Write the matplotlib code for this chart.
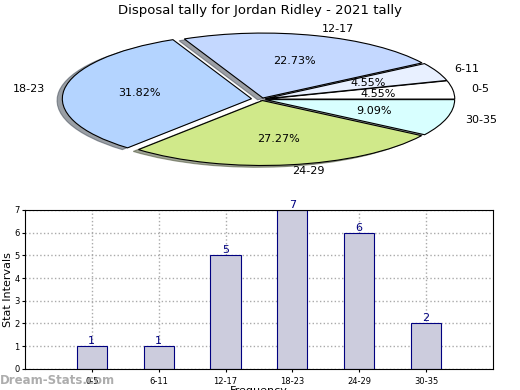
import matplotlib
matplotlib.use('Agg')
import matplotlib.pyplot as plt
import numpy as np

# datos
labels = ['0-5', '6-11', '12-17', '18-23', '24-29', '30-35']
counts = [1, 1, 5, 7, 6, 2]
pie_colors = ['#ffffff', '#e8f0ff', '#c4d8ff', '#b4d4ff', '#d0e98a', '#d8ffff']
explode = [0.02, 0.02, 0.02, 0.055, 0.02, 0.02]

fig = plt.figure(figsize=(5.2, 3.9), dpi=100)

# pastel
ax1 = fig.add_axes([0.096, 0.559, 0.815, 0.373])
ax1.pie(counts, labels=labels, colors=pie_colors, explode=explode,
        autopct='%1.2f%%', pctdistance=0.6, labeldistance=1.1,
        startangle=0, shadow=True, counterclock=True,
        wedgeprops={'edgecolor': 'black', 'linewidth': 0.8},
        textprops={'fontsize': 8})
ax1.set_aspect('auto')
ax1.set_xlim(-1.12, 1.12)
ax1.set_ylim(-1.12, 1.12)
fig.text(0.5, 0.972, 'Disposal tally for Jordan Ridley - 2021 tally',
         ha='center', va='center', fontsize=9.5)

# barras
ax2 = fig.add_axes([0.048, 0.054, 0.9, 0.408])
x = np.arange(1, len(labels) + 1)
ax2.bar(x, counts, width=0.45, color='#ccccdd', edgecolor='navy', linewidth=0.8, zorder=2)
for xi, c in zip(x, counts):
    ax2.text(xi, c, str(c), ha='center', va='bottom', color='navy', fontsize=8)
ax2.set_xlim(0, 7)
ax2.set_ylim(0, 7)
ax2.set_xticks(x)
ax2.set_xticklabels(labels, fontsize=6)
ax2.set_yticks(range(8))
ax2.tick_params(axis='y', labelsize=6, length=2, pad=2)
ax2.tick_params(axis='x', length=2)
ax2.grid(True, linestyle=':', color='#aaaaaa', linewidth=1, zorder=0)
ax2.set_axisbelow(True)
ax2.set_xlabel('Frequency', fontsize=8, labelpad=0)
ax2.set_ylabel('Stat Intervals', fontsize=8, labelpad=1)

fig.text(0.0, 0.025, 'Dream-Stats.com', color='#999999', fontsize=8.5,
         ha='left', va='center', fontweight='bold', alpha=0.8)

fig.savefig('out.png', dpi=100)
